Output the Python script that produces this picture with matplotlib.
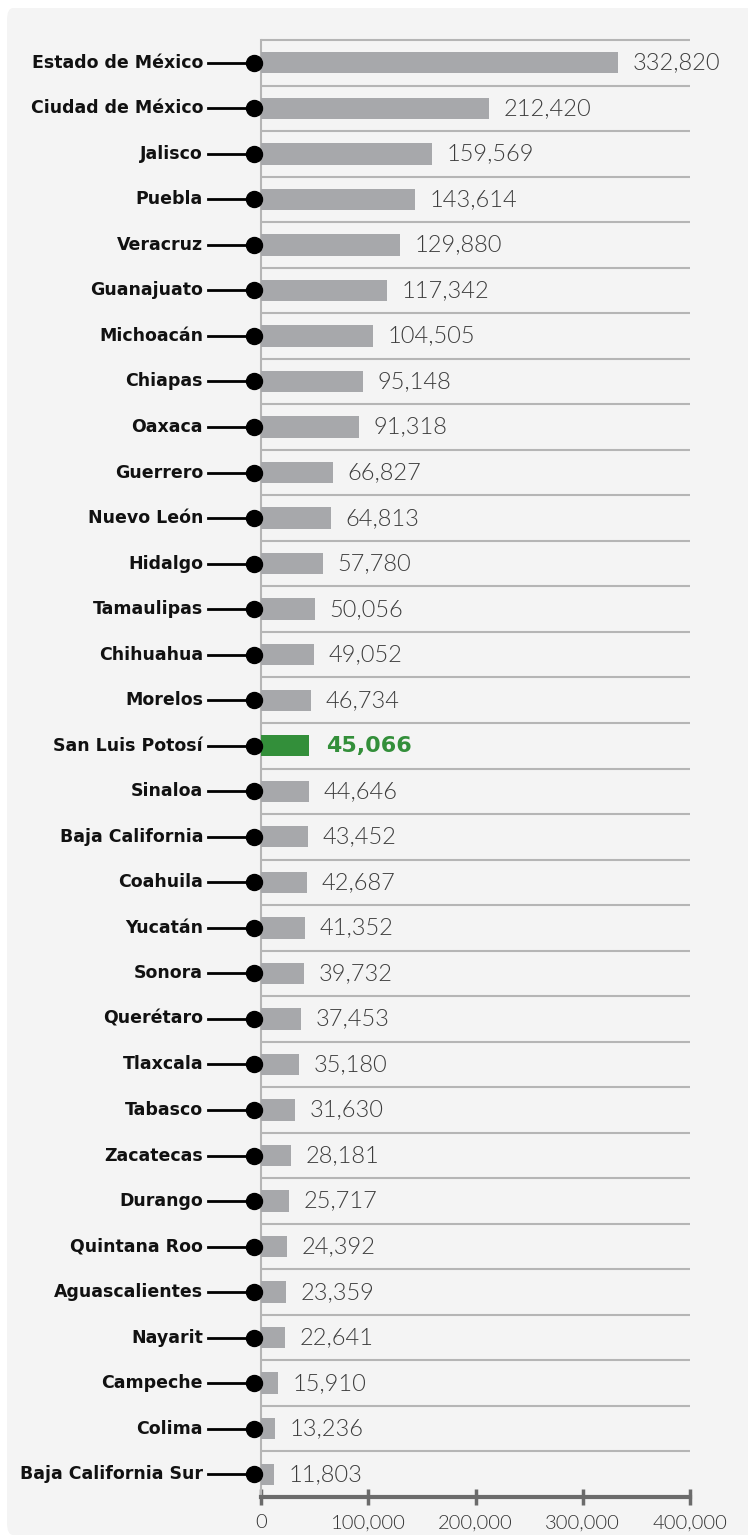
import matplotlib
matplotlib.use("Agg")
import matplotlib.pyplot as plt
from matplotlib.patches import FancyBboxPatch

states = ["Estado de México", "Ciudad de México", "Jalisco", "Puebla", "Veracruz",
          "Guanajuato", "Michoacán", "Chiapas", "Oaxaca", "Guerrero", "Nuevo León",
          "Hidalgo", "Tamaulipas", "Chihuahua", "Morelos", "San Luis Potosí",
          "Sinaloa", "Baja California", "Coahuila", "Yucatán", "Sonora", "Querétaro",
          "Tlaxcala", "Tabasco", "Zacatecas", "Durango", "Quintana Roo",
          "Aguascalientes", "Nayarit", "Campeche", "Colima", "Baja California Sur"]
values = [332820, 212420, 159569, 143614, 129880, 117342, 104505, 95148, 91318,
          66827, 64813, 57780, 50056, 49052, 46734, 45066, 44646, 43452, 42687,
          41352, 39732, 37453, 35180, 31630, 28181, 25717, 24392, 23359, 22641,
          15910, 13236, 11803]
highlight = "San Luis Potosí"
xticks = [0, 100000, 200000, 300000, 400000]

W, H = 748, 1535
fig = plt.figure(figsize=(W / 100, H / 100), dpi=100)
fig.patch.set_facecolor("white")
panel = FancyBboxPatch((7 / W, 0), (W - 7) / W + 0.01, (H - 8) / H,
                       boxstyle="round,pad=0,rounding_size=0.008",
                       transform=fig.transFigure, facecolor="#f4f4f4",
                       edgecolor="none", zorder=-10)
fig.patches.append(panel)

ax = fig.add_axes([261 / W, 1 - 1497 / H, (690 - 261) / W, (1497 - 40) / H])
ax.set_facecolor("none")

n = len(states)
ypos = list(range(n))
colors = ["#338f3a" if s == highlight else "#a7a8ab" for s in states]
ax.barh(ypos, values, height=0.47, color=colors, zorder=3)

ax.set_xlim(0, 400000)
ax.set_ylim(n - 0.5, -0.5)

ax.hlines([i - 0.5 for i in range(n)], 0, 400000, color="#b5b5b5",
          linewidth=1.5, zorder=1, clip_on=False)

tr = ax.get_yaxis_transform()
for i, (s, v) in enumerate(zip(states, values)):
    hl = s == highlight
    if hl:
        ax.annotate(f"{v:,}", xy=(v, i), xytext=(12, 0), textcoords="offset points",
                    ha="left", va="center", fontsize=16, fontweight="bold",
                    color="#338f3a", family="DejaVu Sans", zorder=4)
    else:
        ax.annotate(f"{v:,}", xy=(v, i), xytext=(10.5, 0), textcoords="offset points",
                    ha="left", va="center", fontsize=17, fontweight=300,
                    color="#3d3d3d", family="Lato", zorder=4)
    ax.text(-0.135, i, s, transform=tr, ha="right", va="center",
            fontsize=12.5, fontweight="bold", color="#111111", family="DejaVu Sans")
    ax.plot([-0.1235, -0.0163], [i, i], transform=tr, color="black",
            linewidth=2, clip_on=False, zorder=5)
    ax.plot([-0.0163], [i], transform=tr, marker="o", markersize=11.5,
            color="black", clip_on=False, zorder=6)

for side in ["top", "right"]:
    ax.spines[side].set_visible(False)
ax.spines["left"].set_color("#b5b5b5")
ax.spines["left"].set_linewidth(1.5)
ax.spines["bottom"].set_color("#6b6b6b")
ax.spines["bottom"].set_linewidth(3)

ax.set_yticks([])
ax.set_xticks(xticks)
ax.set_xticklabels([f"{t:,}" for t in xticks], family="Lato", fontweight=300,
                   fontsize=14.5, color="#333333")
ax.tick_params(axis="x", direction="inout", length=11, width=2.5,
               color="#6b6b6b", pad=7)

fig.savefig("out.png", dpi=100)
